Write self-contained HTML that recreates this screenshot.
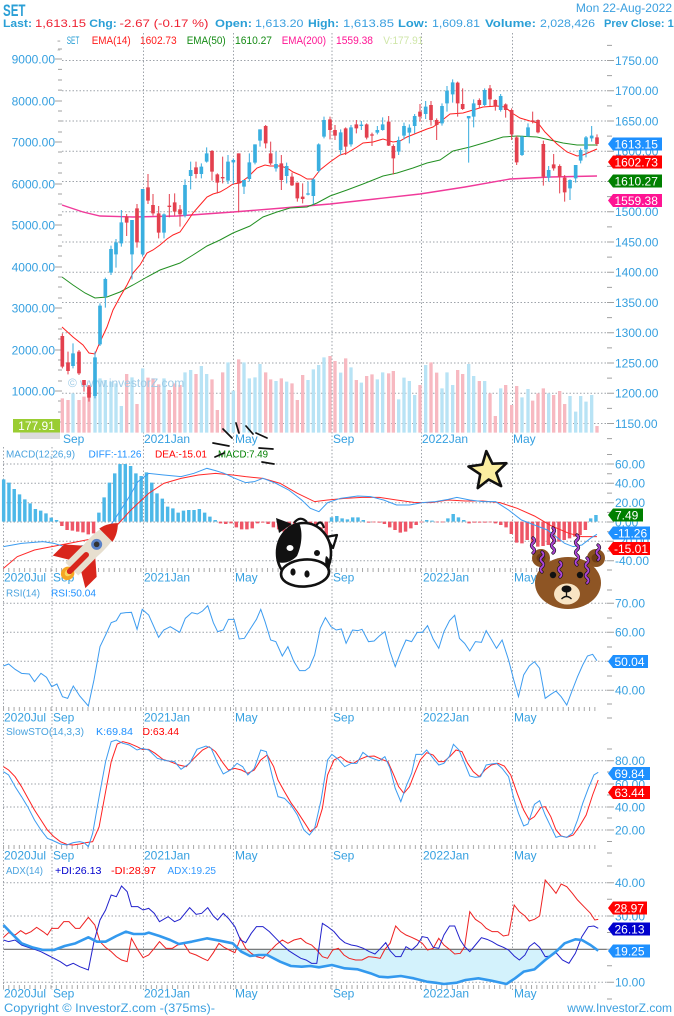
<!DOCTYPE html>
<html><head><meta charset="utf-8"><style>
html,body{margin:0;padding:0;background:#fff;}
svg{display:block;}
</style></head><body>
<svg width="674" height="1016" viewBox="0 0 674 1016" xmlns="http://www.w3.org/2000/svg" font-family="Liberation Sans, Arial, sans-serif">
<defs>
<pattern id="tk" patternUnits="userSpaceOnUse" width="5.28" height="2000" patternTransform="translate(3,0)"><rect x="0" y="0" width="1" height="2000" fill="#a8a8a8"/></pattern>
<clipPath id="adxc" clipPathUnits="userSpaceOnUse"><rect x="0" y="268" width="1500" height="200"/></clipPath>
</defs>
<rect width="674" height="1016" fill="#fff"/>

<!-- HEADER -->
<text x="3" y="16" font-size="16.5" font-weight="bold" fill="#2a9fd6" textLength="22.5" lengthAdjust="spacingAndGlyphs">SET</text>
<text x="672" y="12" font-size="12" fill="#3a9fdf" text-anchor="end">Mon 22-Aug-2022</text>
<g font-size="11">
<text x="3" y="27" font-weight="bold" fill="#2a9fd6" textLength="29" lengthAdjust="spacingAndGlyphs">Last:</text>
<text x="35" y="27" fill="#ee2233" textLength="51" lengthAdjust="spacingAndGlyphs">1,613.15</text>
<text x="89.3" y="27" font-weight="bold" fill="#2a9fd6" textLength="27.5" lengthAdjust="spacingAndGlyphs">Chg:</text>
<text x="119.5" y="27" fill="#ee2233" textLength="89" lengthAdjust="spacingAndGlyphs">-2.67 (-0.17 %)</text>
<text x="215" y="27" font-weight="bold" fill="#2a9fd6" textLength="37" lengthAdjust="spacingAndGlyphs">Open:</text>
<text x="255" y="27" fill="#3a9fdf" textLength="48.5" lengthAdjust="spacingAndGlyphs">1,613.20</text>
<text x="308" y="27" font-weight="bold" fill="#2a9fd6" textLength="31" lengthAdjust="spacingAndGlyphs">High:</text>
<text x="343" y="27" fill="#3a9fdf" textLength="51" lengthAdjust="spacingAndGlyphs">1,613.85</text>
<text x="398" y="27" font-weight="bold" fill="#2a9fd6" textLength="30" lengthAdjust="spacingAndGlyphs">Low:</text>
<text x="432" y="27" fill="#3a9fdf" textLength="48" lengthAdjust="spacingAndGlyphs">1,609.81</text>
<text x="485" y="27" font-weight="bold" fill="#2a9fd6" textLength="51" lengthAdjust="spacingAndGlyphs">Volume:</text>
<text x="540" y="27" fill="#3a9fdf" textLength="55" lengthAdjust="spacingAndGlyphs">2,028,426</text>
<text x="604" y="27" font-weight="bold" fill="#2a9fd6">Prev Close: 1,615.82</text>
</g>
<g font-size="11">
<text x="57" y="43.8" fill="#999">-</text>
<text x="57" y="53" fill="#bbb">-</text>
<text x="66.7" y="43.8" fill="#2a9fd6" textLength="12.6" lengthAdjust="spacingAndGlyphs">SET</text>
<text x="91.7" y="43.8" fill="#ff1a1a" textLength="39" lengthAdjust="spacingAndGlyphs">EMA(14)</text>
<text x="140" y="43.8" fill="#ff1a1a" textLength="36.7" lengthAdjust="spacingAndGlyphs">1602.73</text>
<text x="186.7" y="43.8" fill="#138a13" textLength="39" lengthAdjust="spacingAndGlyphs">EMA(50)</text>
<text x="235" y="43.8" fill="#138a13" textLength="37" lengthAdjust="spacingAndGlyphs">1610.27</text>
<text x="281.7" y="43.8" fill="#ff1493" textLength="44.3" lengthAdjust="spacingAndGlyphs">EMA(200)</text>
<text x="336" y="43.8" fill="#ff1493" textLength="37" lengthAdjust="spacingAndGlyphs">1559.38</text>
<text x="383.3" y="43.8" fill="#cfe6a8" textLength="40" lengthAdjust="spacingAndGlyphs">V:177.91</text>
</g>

<!-- VERTICAL GRID -->
<g stroke="#9ea3aa" stroke-width="1" stroke-dasharray="1.5,2" fill="none">
<path d="M143.5,33V990 M233.5,33V990 M332,33V990 M421.5,33V990 M512.5,33V990 M3.5,447V990 M52,447V990"/>
</g>

<!-- MAIN CHART HORIZONTAL GRID -->
<g stroke="#9ea3aa" stroke-width="1" stroke-dasharray="1.5,2" fill="none">
<path d="M62,60.5H607 M62,90.7H607 M62,121H607 M62,151.2H607 M62,181.5H607 M62,211.7H607 M62,242H607 M62,272.2H607 M62,302.5H607 M62,332.7H607 M62,363H607 M62,393.2H607 M62,423.5H607"/>
</g>
<!-- main axes ticks -->
<g stroke="#a0a0a0" stroke-width="1">
<path d="M607,60.5h7 M607,90.7h7 M607,121h7 M607,151.2h7 M607,181.5h7 M607,211.7h7 M607,242h7 M607,272.2h7 M607,302.5h7 M607,332.7h7 M607,363h7 M607,393.2h7 M607,423.5h7"/>
<path d="M607,45.4h5 M607,75.6h5 M607,105.9h5 M607,136.1h5 M607,166.4h5 M607,196.6h5 M607,226.9h5 M607,257.1h5 M607,287.4h5 M607,317.6h5 M607,347.9h5 M607,378.1h5 M607,408.4h5 M607,438.6h5"/>
<path d="M55,59h7 M55,101h7 M55,142h7 M55,184h7 M55,225h7 M55,267h7 M55,308h7 M55,350h7 M55,391h7"/>
<path d="M58,49h4 M58,69.4h4 M58,80h4 M58,90.1h4 M58,111h4 M58,121h4 M58,132h4 M58,152h4 M58,163h4 M58,173h4 M58,194h4 M58,204h4 M58,215h4 M58,235h4 M58,246h4 M58,256h4 M58,277h4 M58,287h4 M58,298h4 M58,318h4 M58,329h4 M58,339h4 M58,360h4 M58,370h4 M58,381h4 M58,401h4 M58,412h4 M58,422h4"/>
</g>
<g font-size="12" fill="#36a0e0">
<text x="55" y="63.3" text-anchor="end">9000.00</text>
<text x="55" y="105.3" text-anchor="end">8000.00</text>
<text x="55" y="146.3" text-anchor="end">7000.00</text>
<text x="55" y="188.3" text-anchor="end">6000.00</text>
<text x="55" y="229.3" text-anchor="end">5000.00</text>
<text x="55" y="271.3" text-anchor="end">4000.00</text>
<text x="55" y="312.3" text-anchor="end">3000.00</text>
<text x="55" y="354.3" text-anchor="end">2000.00</text>
<text x="55" y="395.3" text-anchor="end">1000.00</text>
<text x="615" y="64.8">1750.00</text>
<text x="615" y="95">1700.00</text>
<text x="615" y="125.3">1650.00</text>
<text x="615" y="155.5">1600.00</text>
<text x="615" y="185.8">1550.00</text>
<text x="615" y="216">1500.00</text>
<text x="615" y="246.3">1450.00</text>
<text x="615" y="276.5">1400.00</text>
<text x="615" y="306.8">1350.00</text>
<text x="615" y="337">1300.00</text>
<text x="615" y="367.3">1250.00</text>
<text x="615" y="397.5">1200.00</text>
<text x="615" y="427.8">1150.00</text>
<text x="63" y="443">Sep</text>
<text x="144" y="443">2021Jan</text>
<text x="235" y="443">May</text>
<text x="333" y="443">Sep</text>
<text x="422" y="443">2022Jan</text>
<text x="513" y="443">May</text>
</g>

<!-- VOLUME -->
<g transform="translate(0,40) scale(0.333333)">
<path fill="#f7b9c1" d="M182,1075h10V1178h-10Z M199,1080h10V1178h-10Z M232,1080h10V1178h-10Z M247,1070h10V1178h-10Z M262,1035h10V1178h-10Z M375,1002h10V1178h-10Z M406,1092h10V1178h-10Z M439,1013h10V1178h-10Z M454,1015h10V1178h-10Z M471,1033h10V1178h-10Z M503,1050h10V1178h-10Z M519,1030h10V1178h-10Z M535,1035h10V1178h-10Z M583,1002h10V1178h-10Z M631,1018h10V1178h-10Z M647,1110h10V1178h-10Z M663,997h10V1178h-10Z M711,958h10V1178h-10Z M792,997h10V1178h-10Z M807,1018h10V1178h-10Z M839,1015h10V1178h-10Z M871,1030h10V1178h-10Z M887,1080h10V1178h-10Z M903,1005h10V1178h-10Z"/>
<path fill="#b8e3f5" d="M214,1060h10V1178h-10Z M280,1015h10V1178h-10Z M295,1015h10V1178h-10Z M311,1020h10V1178h-10Z M328,1025h10V1178h-10Z M343,1030h10V1178h-10Z M359,1098h10V1178h-10Z M391,1012h10V1178h-10Z M423,985h10V1178h-10Z M487,1015h10V1178h-10Z M550,997h10V1178h-10Z M567,990h10V1178h-10Z M599,978h10V1178h-10Z M615,1002h10V1178h-10Z M679,967h10V1178h-10Z M695,1052h10V1178h-10Z M727,967h10V1178h-10Z M743,1015h10V1178h-10Z M760,1012h10V1178h-10Z M775,972h10V1178h-10Z M823,1023h10V1178h-10Z M855,1025h10V1178h-10Z M919,1020h10V1178h-10Z M935,988h10V1178h-10Z M951,975h10V1178h-10Z M967,952h10V1178h-10Z"/>
</g>
<g transform="translate(330,40) scale(0.333333)">
<path fill="#f7b9c1" d="M-5,948h10V1178h-10Z M10,963h10V1178h-10Z M42,955h10V1178h-10Z M74,1020h10V1178h-10Z M105,1008h10V1178h-10Z M121,1003h10V1178h-10Z M171,1000h10V1178h-10Z M185,993h10V1178h-10Z M265,1035h10V1178h-10Z M298,967h10V1178h-10Z M315,998h10V1178h-10Z M378,990h10V1178h-10Z M393,1002h10V1178h-10Z M443,1023h10V1178h-10Z M475,1060h10V1178h-10Z M491,1128h10V1178h-10Z M522,1035h10V1178h-10Z M540,1095h10V1178h-10Z M555,1038h10V1178h-10Z M603,1082h10V1178h-10Z M619,1060h10V1178h-10Z M635,1045h10V1178h-10Z M666,1065h10V1178h-10Z M684,1053h10V1178h-10Z M699,1092h10V1178h-10Z M796,1158h10V1178h-10Z"/>
<path fill="#b8e3f5" d="M27,998h10V1178h-10Z M58,982h10V1178h-10Z M89,1028h10V1178h-10Z M137,1018h10V1178h-10Z M153,997h10V1178h-10Z M201,1078h10V1178h-10Z M217,1013h10V1178h-10Z M233,1023h10V1178h-10Z M249,1065h10V1178h-10Z M282,975h10V1178h-10Z M331,1045h10V1178h-10Z M346,997h10V1178h-10Z M363,1035h10V1178h-10Z M411,972h10V1178h-10Z M426,1008h10V1178h-10Z M459,1023h10V1178h-10Z M507,1045h10V1178h-10Z M571,1072h10V1178h-10Z M589,1047h10V1178h-10Z M651,1060h10V1178h-10Z M715,1068h10V1178h-10Z M732,1115h10V1178h-10Z M747,1068h10V1178h-10Z M763,1085h10V1178h-10Z M780,1065h10V1178h-10Z"/>
</g>
<text x="68" y="387" font-size="12" fill="#9fcbe6">© www.investorZ.com</text>

<!-- EMA lines -->
<polyline fill="none" stroke="#f03a9a" stroke-width="1.4" points="62,205 83,212 100,216 133,217 177,216 233,212 283,208 330,204 375,199 420,194 465,187 510,179 550,177 597,176"/>
<polyline fill="none" stroke="#239023" stroke-width="1" points="62,277 73,285 85,293 95,298 107,297 120,292 133,285 147,277 160,270 180,263 193,255 207,246 220,240 233,233 250,226 263,217 277,212 290,208 307,207 317,203 330,196 347,190 363,184 383,176 397,173 413,168 427,163 440,160 453,151 470,147 487,142 503,137 517,136 537,137 550,140 563,143 577,145 597,145"/>
<polyline fill="none" stroke="#ff2020" stroke-width="1" points="62,327 73,337 83,345 89,353 95,354 100,342 107,327 113,310 120,297 127,285 133,273 140,265 147,253 153,250 160,245 167,239 173,235 180,232 187,222 193,213 200,205 207,197 213,194 220,192 227,188 233,184 240,183 248,177 257,168 265,165 270,166 280,166 287,168 293,172 300,175 307,179 313,179 320,170 330,162 340,155 347,153 357,147 363,143 373,142 383,139 393,142 400,141 407,137 417,133 427,129 433,127 440,122 450,114 463,113 473,110 483,107 497,106 505,107 512,113 520,118 530,121 538,123 545,132 557,144 567,152 577,156 583,155 590,152 597,149"/>

<!-- CANDLES -->
<g transform="translate(0,40) scale(0.333333)">
<path fill="none" stroke="#e3404e" stroke-width="3" d="M187,880V985 M204,935V1003 M237,930V1005 M252,1020V1055 M267,1035V1085 M380,522V588 M411,492V623 M444,402V492 M459,462V527 M476,498V595 M508,462V532 M524,460V527 M540,495V560 M588,365V415 M636,330V422 M652,400V460 M668,350V430 M716,340V517 M797,255V325 M812,305V375 M844,345V450 M876,398V438 M892,428V485 M908,430V490"/>
<path fill="#e3404e" d="M181.5,888h11V980h-11Z M198.5,967h11V993h-11Z M231.5,935h11V1000h-11Z M246.5,1020h11V1035h-11Z M261.5,1040h11V1073h-11Z M374.5,530h11V548h-11Z M405.5,505h11V607h-11Z M438.5,442h11V482h-11Z M453.5,495h11V520h-11Z M470.5,520h11V578h-11Z M502.5,497h11V501h-11Z M518.5,487h11V515h-11Z M534.5,508h11V523h-11Z M582.5,382h11V402h-11Z M630.5,333h11V395h-11Z M646.5,403h11V428h-11Z M662.5,411h11V415h-11Z M710.5,340h11V430h-11Z M791.5,258h11V310h-11Z M806.5,340h11V370h-11Z M838.5,370h11V420h-11Z M870.5,410h11V436h-11Z M886.5,428h11V475h-11Z M902.5,470h11V477h-11Z"/>
<path fill="none" stroke="#35aadd" stroke-width="3" d="M219,910V985 M285,935V1075 M300,790V918 M316,713V803 M333,617V705 M348,597V683 M364,510V620 M396,540V718 M428,447V650 M492,520V595 M555,418V532 M572,365V448 M604,370V415 M620,322V368 M684,345V432 M700,355V432 M732,420V462 M748,340V425 M765,313V373 M780,268V320 M828,335V395 M860,368V430 M924,425V466 M940,415V493 M956,310V398 M972,230V295"/>
<path fill="#3aafe0" d="M213.5,940h11V978h-11Z M279.5,952h11V1068h-11Z M294.5,797h11V913h-11Z M310.5,717h11V770h-11Z M327.5,627h11V698h-11Z M342.5,607h11V643h-11Z M358.5,547h11V610h-11Z M390.5,540h11V643h-11Z M422.5,447h11V643h-11Z M486.5,523h11V578h-11Z M549.5,435h11V527h-11Z M566.5,390h11V408h-11Z M598.5,380h11V402h-11Z M614.5,340h11V365h-11Z M678.5,365h11V422h-11Z M694.5,360h11V367h-11Z M726.5,420h11V440h-11Z M742.5,367h11V417h-11Z M759.5,313h11V368h-11Z M774.5,268h11V302h-11Z M822.5,372h11V385h-11Z M854.5,378h11V408h-11Z M918.5,460h11V464h-11Z M934.5,418h11V468h-11Z M950.5,313h11V393h-11Z M966.5,240h11V290h-11Z"/>
</g>
<g transform="translate(330,40) scale(0.333333)">
<path fill="none" stroke="#e3404e" stroke-width="3" d="M0,230V298 M15,255V300 M47,262V345 M79,240V280 M110,250V298 M126,278V318 M176,228V318 M190,313V403 M270,192V245 M303,183V257 M320,235V300 M383,125V230 M398,145V210 M448,175V205 M480,135V198 M496,178V212 M527,190V233 M545,205V300 M560,287V375 M608,215V250 M624,238V280 M640,302V437 M671,342V392 M689,373V460 M704,405V485 M801,283V318"/>
<path fill="#e3404e" d="M-5.5,238h11V270h-11Z M9.5,270h11V287h-11Z M41.5,265h11V320h-11Z M73.5,253h11V265h-11Z M104.5,253h11V293h-11Z M120.5,283h11V287h-11Z M170.5,245h11V317h-11Z M184.5,318h11V355h-11Z M264.5,215h11V230h-11Z M297.5,195h11V240h-11Z M314.5,240h11V255h-11Z M377.5,128h11V190h-11Z M392.5,192h11V207h-11Z M442.5,180h11V195h-11Z M474.5,145h11V178h-11Z M490.5,180h11V198h-11Z M521.5,193h11V210h-11Z M539.5,210h11V283h-11Z M554.5,292h11V367h-11Z M602.5,241h11V245h-11Z M618.5,240h11V277h-11Z M634.5,312h11V410h-11Z M665.5,373h11V385h-11Z M683.5,378h11V410h-11Z M698.5,413h11V457h-11Z M795.5,292h11V312h-11Z"/>
<path fill="none" stroke="#35aadd" stroke-width="3" d="M32,268V345 M63,255V320 M94,243V270 M142,258V283 M158,232V272 M206,290V345 M222,248V298 M238,253V310 M254,222V280 M287,183V237 M336,190V257 M351,138V215 M368,118V188 M416,228V368 M431,178V262 M464,145V198 M512,162V215 M576,287V348 M594,250V290 M656,378V425 M720,418V480 M737,375V428 M752,325V370 M768,288V352 M785,258V305"/>
<path fill="#3aafe0" d="M26.5,277h11V330h-11Z M57.5,262h11V313h-11Z M88.5,254h11V258h-11Z M136.5,270h11V278h-11Z M152.5,253h11V270h-11Z M200.5,300h11V335h-11Z M216.5,258h11V287h-11Z M232.5,263h11V278h-11Z M248.5,228h11V258h-11Z M281.5,200h11V222h-11Z M330.5,198h11V250h-11Z M345.5,152h11V190h-11Z M362.5,127h11V163h-11Z M410.5,228h11V235h-11Z M425.5,190h11V230h-11Z M458.5,150h11V195h-11Z M506.5,168h11V210h-11Z M570.5,290h11V345h-11Z M588.5,262h11V290h-11Z M650.5,390h11V413h-11Z M714.5,420h11V445h-11Z M731.5,375h11V415h-11Z M746.5,330h11V362h-11Z M762.5,292h11V328h-11Z M779.5,287h11V295h-11Z"/>
</g>

<!-- main right labels -->
<g font-size="12" fill="#fff">
<polygon points="608,144 613,137.5 662,137.5 662,150.5 613,150.5" fill="#1e90ff"/><text x="614.5" y="148.3">1613.15</text>
<polygon points="608,162 613,155.5 662,155.5 662,168.5 613,168.5" fill="#ff0000"/><text x="614.5" y="166.3">1602.73</text>
<polygon points="608,181 613,174.5 662,174.5 662,187.5 613,187.5" fill="#008000"/><text x="614.5" y="185.3">1610.27</text>
<polygon points="608,200.5 613,194 662,194 662,207 613,207" fill="#ff1493"/><text x="614.5" y="204.8">1559.38</text>
</g>
<rect x="20" y="432" width="40" height="7" fill="#dcdcdc"/>
<rect x="13" y="419" width="47" height="13.5" fill="#9acd32"/>
<text x="36.5" y="430" font-size="12" fill="#fff" text-anchor="middle">177.91</text>

<!-- LOWER PANELS: horizontal grid -->
<g stroke="#9ea3aa" stroke-width="1" stroke-dasharray="1.5,2" fill="none">
<path d="M3,464H607 M3,483.3H607 M3,502.7H607 M3,522H607 M3,541.3H607 M3,560.7H607"/>
<path d="M3,603.3H607 M3,632.3H607 M3,661.3H607 M3,690.3H607"/>
<path d="M3,760.7H607 M3,784H607 M3,807H607 M3,830H607"/>
<path d="M3,882.7H607 M3,916H607 M3,982.3H607"/>
</g>
<g stroke="#a0a0a0" stroke-width="1">
<path d="M607,464h7 M607,483.3h7 M607,502.7h7 M607,522h7 M607,541.3h7 M607,560.7h7 M607,454.5h5 M607,473.8h5 M607,493.1h5 M607,512.4h5 M607,531.7h5 M607,551h5 M607,570h5"/>
<path d="M607,603.3h7 M607,632.3h7 M607,661.3h7 M607,690.3h7 M607,590h5 M607,618h5 M607,647h5 M607,676h5 M607,704h5 M607,718h5"/>
<path d="M607,760.7h7 M607,784h7 M607,807h7 M607,830h7 M607,749h5 M607,772h5 M607,795h5 M607,818h5 M607,841.5h5 M607,853h5"/>
<path d="M607,882.7h7 M607,916h7 M607,949.3h7 M607,982.3h7 M607,866h5 M607,899.3h5 M607,932.5h5 M607,965.7h5 M607,999h5"/>
</g>
<rect x="3" y="568" width="596" height="4" fill="url(#tk)"/>
<rect x="3" y="707" width="596" height="4" fill="url(#tk)"/>
<rect x="3" y="845" width="596" height="4" fill="url(#tk)"/>
<rect x="3" y="985" width="596" height="4" fill="url(#tk)"/>

<g font-size="12" fill="#36a0e0">
<text x="615" y="468.3">60.00</text><text x="615" y="487.6">40.00</text><text x="615" y="507">20.00</text><text x="615" y="526.3">0.00</text><text x="615" y="545.6">-20.00</text><text x="615" y="565">-40.00</text>
<text x="615" y="607.6">70.00</text><text x="615" y="636.6">60.00</text><text x="615" y="665.6">50.00</text><text x="615" y="694.6">40.00</text>
<text x="615" y="765">80.00</text><text x="615" y="788.3">60.00</text><text x="615" y="811.3">40.00</text><text x="615" y="834.3">20.00</text>
<text x="615" y="887">40.00</text><text x="615" y="920.3">30.00</text><text x="615" y="953.6">20.00</text><text x="615" y="986.6">10.00</text>
</g>
<g font-size="12" fill="#36a0e0">
<g transform="translate(0,581.5)"><text x="4" y="0">2020Jul</text><text x="53" y="0">Sep</text><text x="144" y="0">2021Jan</text><text x="235" y="0">May</text><text x="333" y="0">Sep</text><text x="423" y="0">2022Jan</text><text x="514" y="0">May</text></g>
<g transform="translate(0,721.5)"><text x="4" y="0">2020Jul</text><text x="53" y="0">Sep</text><text x="144" y="0">2021Jan</text><text x="235" y="0">May</text><text x="333" y="0">Sep</text><text x="423" y="0">2022Jan</text><text x="514" y="0">May</text></g>
<g transform="translate(0,859.5)"><text x="4" y="0">2020Jul</text><text x="53" y="0">Sep</text><text x="144" y="0">2021Jan</text><text x="235" y="0">May</text><text x="333" y="0">Sep</text><text x="423" y="0">2022Jan</text><text x="514" y="0">May</text></g>
<g transform="translate(0,997.5)"><text x="4" y="0">2020Jul</text><text x="53" y="0">Sep</text><text x="144" y="0">2021Jan</text><text x="235" y="0">May</text><text x="333" y="0">Sep</text><text x="423" y="0">2022Jan</text><text x="514" y="0">May</text></g>
</g>

<!-- titles -->
<g font-size="10">
<text x="6" y="457.5" fill="#4aa3df" textLength="69" lengthAdjust="spacingAndGlyphs">MACD(12,26,9)</text>
<text x="88.5" y="457.5" fill="#1e90ff" textLength="53" lengthAdjust="spacingAndGlyphs">DIFF:-11.26</text>
<text x="155" y="457.5" fill="#ff0000" textLength="52" lengthAdjust="spacingAndGlyphs">DEA:-15.01</text>
<text x="218" y="457.5" fill="#008000" textLength="50" lengthAdjust="spacingAndGlyphs">MACD:7.49</text>
<text x="6" y="596.5" fill="#4aa3df" textLength="34" lengthAdjust="spacingAndGlyphs">RSI(14)</text>
<text x="51" y="596.5" fill="#1e90ff" textLength="45" lengthAdjust="spacingAndGlyphs">RSI:50.04</text>
<text x="6" y="735" fill="#4aa3df" textLength="78" lengthAdjust="spacingAndGlyphs">SlowSTO(14,3,3)</text>
<text x="96" y="735" fill="#1e90ff" textLength="37" lengthAdjust="spacingAndGlyphs">K:69.84</text>
<text x="142.5" y="735" fill="#ff0000" textLength="36.5" lengthAdjust="spacingAndGlyphs">D:63.44</text>
<text x="6" y="874" fill="#4aa3df" textLength="37" lengthAdjust="spacingAndGlyphs">ADX(14)</text>
<text x="55" y="874" fill="#0000cd" textLength="46.5" lengthAdjust="spacingAndGlyphs">+DI:26.13</text>
<text x="111" y="874" fill="#ff0000" textLength="45" lengthAdjust="spacingAndGlyphs">-DI:28.97</text>
<text x="167.5" y="874" fill="#3399ff" textLength="48.5" lengthAdjust="spacingAndGlyphs">ADX:19.25</text>
</g>

<!-- MACD -->
<g transform="translate(0,440) scale(0.431,0.333333)">
<path fill="#4db8e8" d="M4.5,118h8V245h-8Z M16.8,128h8V245h-8Z M29,147h8V245h-8Z M41.3,163h8V245h-8Z M53.6,178h8V245h-8Z M65.9,190h8V245h-8Z M78.1,207h8V245h-8Z M90.4,212h8V245h-8Z M102.7,220h8V245h-8Z M114.9,233h8V245h-8Z M127.2,240h8V245h-8Z M225.4,218h8V245h-8Z M237.6,172h8V245h-8Z M249.9,128h8V245h-8Z M262.2,100h8V245h-8Z M274.4,72h8V245h-8Z M286.7,72h8V245h-8Z M299,78h8V245h-8Z M311.3,100h8V245h-8Z M323.5,108h8V245h-8Z M335.8,97h8V245h-8Z M348.1,128h8V245h-8Z M360.3,160h8V245h-8Z M372.6,176h8V245h-8Z M384.9,200h8V245h-8Z M397.1,205h8V245h-8Z M409.4,218h8V245h-8Z M421.7,212h8V245h-8Z M434,210h8V245h-8Z M446.2,210h8V245h-8Z M458.5,207h8V245h-8Z M470.8,218h8V245h-8Z M483,230h8V245h-8Z M495.3,240h8V245h-8Z M765.2,232h8V245h-8Z M777.5,228h8V245h-8Z M789.8,235h8V245h-8Z M802.1,238h8V245h-8Z M814.3,232h8V245h-8Z M826.6,232h8V245h-8Z M838.9,240h8V245h-8Z M986.1,240h8V245h-8Z M998.4,242h8V245h-8Z M1035.2,235h8V245h-8Z M1047.5,222h8V245h-8Z M1059.7,232h8V245h-8Z M1072,240h8V245h-8Z M1366.5,235h8V245h-8Z M1378.7,225h8V245h-8Z"/>
<path fill="#ee5566" d="M139.5,245h8V258h-8Z M151.7,245h8V270h-8Z M164,245h8V272h-8Z M176.3,245h8V275h-8Z M188.5,245h8V277h-8Z M200.8,245h8V283h-8Z M213.1,245h8V280h-8Z M507.6,245h8V250h-8Z M519.8,245h8V252h-8Z M532.1,245h8V250h-8Z M544.4,245h8V262h-8Z M556.7,245h8V268h-8Z M568.9,245h8V268h-8Z M581.2,245h8V265h-8Z M593.5,245h8V250h-8Z M605.7,245h8V248h-8Z M618,245h8V252h-8Z M630.3,245h8V262h-8Z M642.5,245h8V268h-8Z M654.8,245h8V275h-8Z M667.1,245h8V285h-8Z M679.4,245h8V295h-8Z M691.6,245h8V305h-8Z M703.9,245h8V318h-8Z M716.2,245h8V325h-8Z M728.4,245h8V328h-8Z M740.7,245h8V318h-8Z M753,245h8V300h-8Z M851.1,245h8V248h-8Z M863.4,245h8V247h-8Z M875.7,245h8V248h-8Z M887.9,245h8V252h-8Z M900.2,245h8V262h-8Z M912.5,245h8V270h-8Z M924.8,245h8V278h-8Z M937,245h8V275h-8Z M949.3,245h8V265h-8Z M961.6,245h8V255h-8Z M973.8,245h8V247h-8Z M1010.6,245h8V247h-8Z M1022.9,245h8V247h-8Z M1084.3,245h8V250h-8Z M1096.5,245h8V248h-8Z M1108.8,245h8V248h-8Z M1121.1,245h8V248h-8Z M1133.3,245h8V247h-8Z M1145.6,245h8V250h-8Z M1157.9,245h8V255h-8Z M1170.2,245h8V262h-8Z M1182.4,245h8V282h-8Z M1194.7,245h8V308h-8Z M1207,245h8V310h-8Z M1219.2,245h8V300h-8Z M1231.5,245h8V310h-8Z M1243.8,245h8V320h-8Z M1256,245h8V318h-8Z M1268.3,245h8V315h-8Z M1280.6,245h8V312h-8Z M1292.9,245h8V305h-8Z M1305.1,245h8V300h-8Z M1317.4,245h8V295h-8Z M1329.7,245h8V290h-8Z M1341.9,245h8V285h-8Z M1354.2,245h8V270h-8Z"/>
<polyline fill="none" stroke="#ff2a2a" stroke-width="1" vector-effect="non-scaling-stroke" points="8,385 40,350 80,330 120,320 160,310 200,300 240,290 270,258 300,215 320,190 345,160 380,130 420,115 460,105 500,100 540,105 570,110 610,115 650,130 690,160 730,185 760,180 800,175 840,172 880,172 920,180 960,187 1000,188 1040,180 1080,183 1120,183 1160,188 1200,205 1240,228 1280,258 1320,280 1350,290 1385,290"/>
<polyline fill="none" stroke="#3d9cf0" stroke-width="1" vector-effect="non-scaling-stroke" points="8,320 50,310 100,305 125,310 145,318 170,322 200,315 230,300 250,268 265,240 280,210 300,170 320,125 345,100 380,105 420,110 450,100 480,85 500,92 520,100 545,115 570,128 590,125 610,115 640,130 670,150 700,180 720,205 740,215 760,188 790,175 830,168 860,170 890,180 920,195 950,195 980,188 1010,185 1040,178 1060,172 1090,180 1120,185 1150,185 1180,210 1210,240 1240,255 1270,270 1290,290 1310,310 1330,320 1350,315 1370,295 1385,283"/>
</g>
<g font-size="12" fill="#fff">
<polygon points="608,515 613,508.5 643,508.5 643,521.5 613,521.5" fill="#008000"/><text x="615" y="519.3">7.49</text>
<polygon points="608,533 613,526.5 650,526.5 650,539.5 613,539.5" fill="#1e90ff"/><text x="614" y="537.3">-11.26</text>
<polygon points="608,548.5 613,542 650,542 650,555 613,555" fill="#ff0000"/><text x="614" y="552.8">-15.01</text>
</g>

<!-- RSI -->
<g transform="translate(0,580) scale(0.431,0.333333)">
<polyline fill="none" stroke="#3d9cf0" stroke-width="1" vector-effect="non-scaling-stroke" points="8,258 20,252 35,268 50,280 68,282 80,305 95,280 108,292 120,320 132,312 145,350 157,355 170,318 185,348 205,378 218,300 232,200 245,165 258,128 270,122 280,100 292,98 305,97 318,148 330,88 345,105 368,172 380,150 395,140 417,157 430,115 445,98 458,102 470,93 482,77 495,128 505,155 518,150 530,118 543,118 555,177 567,175 580,148 595,118 605,88 615,125 628,180 640,185 655,228 668,200 682,245 695,272 708,272 718,262 730,225 743,145 755,113 768,140 780,150 792,147 803,190 818,150 830,152 840,148 855,185 868,183 880,168 893,155 905,215 917,260 930,215 942,180 955,185 968,157 980,157 992,137 1005,177 1018,205 1030,155 1043,122 1055,106 1066,175 1078,190 1090,213 1103,185 1117,187 1128,152 1140,178 1152,205 1165,180 1180,240 1192,300 1203,350 1215,285 1228,258 1240,245 1252,265 1265,355 1278,343 1290,333 1302,350 1315,375 1328,330 1340,290 1352,255 1363,228 1375,223 1385,242"/>
</g>
<g font-size="12" fill="#fff">
<polygon points="608,661.5 613,655 648,655 648,668 613,668" fill="#1e90ff"/><text x="614.5" y="665.8">50.04</text>
</g>

<!-- STOCH -->
<g transform="translate(0,720) scale(0.431,0.333333)">
<polyline fill="none" stroke="#ff2222" stroke-width="1" vector-effect="non-scaling-stroke" points="8,140 20,150 35,170 50,200 65,235 80,270 95,300 110,330 125,350 140,365 155,373 170,375 185,372 200,368 215,365 230,320 245,215 258,125 272,72 285,65 300,70 318,80 330,88 345,88 360,100 378,118 395,125 415,135 432,140 450,115 470,90 485,80 500,95 518,130 530,150 545,145 560,150 575,160 590,150 605,120 620,105 635,140 645,180 660,215 675,248 690,275 705,305 720,335 735,320 748,265 760,165 775,120 790,110 805,125 820,130 835,118 850,110 868,108 885,118 900,125 912,160 925,200 937,220 950,200 962,160 975,120 990,98 1005,105 1018,125 1030,125 1045,108 1058,90 1072,95 1085,130 1098,155 1112,170 1125,150 1140,135 1155,130 1170,138 1185,165 1200,220 1215,270 1228,300 1240,290 1255,262 1265,260 1278,290 1290,330 1302,348 1315,352 1330,345 1345,318 1360,285 1375,225 1388,180"/>
<polyline fill="none" stroke="#3d9cf0" stroke-width="1" vector-effect="non-scaling-stroke" points="8,155 20,165 35,200 50,230 65,262 80,300 95,330 110,355 125,363 140,372 155,375 170,368 185,365 195,368 205,380 215,340 230,230 245,125 258,65 270,60 285,70 300,75 318,90 330,85 345,90 365,115 385,122 405,125 420,148 440,130 457,88 478,78 490,85 505,130 518,162 535,150 550,130 563,140 575,165 590,145 605,90 618,95 633,175 645,230 660,235 675,255 690,285 705,330 718,345 730,325 745,240 760,120 770,103 785,118 800,140 815,130 828,130 842,97 855,110 870,118 880,122 893,110 905,145 917,205 930,245 942,200 955,160 965,103 980,103 990,90 1005,115 1018,135 1030,130 1043,108 1052,73 1065,90 1078,130 1090,168 1103,172 1115,170 1128,135 1140,132 1152,130 1165,145 1180,170 1192,235 1203,280 1215,318 1225,312 1240,253 1252,242 1265,285 1278,320 1290,352 1300,348 1315,352 1328,340 1340,300 1352,250 1365,205 1378,165 1388,157"/>
</g>
<g font-size="12" fill="#fff">
<polygon points="608,773.5 613,767 650,767 650,780 613,780" fill="#1e90ff"/><text x="614.5" y="777.8">69.84</text>
<polygon points="608,792.5 613,786 650,786 650,799 613,799" fill="#ff0000"/><text x="614.5" y="796.8">63.44</text>
</g>

<!-- ADX -->
<g transform="translate(0,860) scale(0.431,0.333333)">
<polygon clip-path="url(#adxc)" fill="#d3f2fc" points="8,195 25,218 50,250 75,262 100,270 125,270 150,258 175,250 205,232 225,245 245,245 270,228 292,215 310,222 335,222 345,218 370,228 395,240 415,252 445,245 480,235 510,242 540,250 560,275 580,288 600,285 620,285 650,305 675,318 700,320 720,318 740,322 770,315 800,325 830,328 860,340 880,350 900,352 930,348 960,355 990,365 1010,368 1030,372 1060,368 1080,360 1110,355 1140,362 1175,372 1195,355 1215,335 1240,328 1265,300 1290,275 1310,250 1335,238 1350,240 1370,255 1388,272 1388,268 8,268"/>
<line x1="8" y1="268" x2="1408" y2="268" stroke="#6a6a6a" stroke-width="1.2" vector-effect="non-scaling-stroke"/>
<polyline fill="none" stroke="#ee2222" stroke-width="1" vector-effect="non-scaling-stroke" points="8,232 20,218 35,225 48,212 60,222 72,215 85,202 100,215 110,225 120,205 135,205 148,185 160,185 175,205 185,205 205,172 220,195 232,245 245,262 258,275 270,290 282,300 295,305 305,235 320,270 332,293 345,285 358,265 370,245 385,265 400,265 412,255 425,248 440,278 455,285 470,295 482,302 495,278 508,250 520,262 532,270 545,278 558,235 570,265 583,280 595,290 610,295 625,275 640,255 655,240 668,250 682,240 698,235 710,248 723,255 735,270 748,290 760,295 772,270 785,265 798,285 810,295 825,300 840,300 855,290 870,292 882,295 893,268 905,250 918,198 930,215 942,225 955,232 968,240 980,250 992,270 1005,265 1018,235 1030,255 1043,268 1055,282 1068,280 1078,260 1090,155 1103,178 1117,190 1128,205 1142,215 1155,215 1168,228 1180,225 1193,135 1205,155 1218,168 1228,183 1240,178 1252,168 1265,60 1278,80 1290,100 1302,72 1315,80 1328,100 1340,120 1355,140 1370,160 1380,180 1388,178"/>
<polyline fill="none" stroke="#2222cc" stroke-width="1" vector-effect="non-scaling-stroke" points="8,240 20,245 35,240 50,255 65,262 80,268 95,275 110,285 125,295 140,305 155,318 170,310 185,320 205,330 218,245 232,180 245,150 258,105 270,110 282,78 295,95 305,140 320,140 332,150 345,145 358,160 370,185 390,170 405,185 418,178 440,143 455,163 468,160 482,143 495,168 505,180 518,160 530,175 545,200 558,240 570,248 583,220 595,200 610,200 625,215 640,235 655,255 670,272 683,283 698,295 710,300 723,310 735,310 748,190 760,200 775,215 788,235 800,248 815,255 828,258 843,265 857,275 870,282 883,265 895,248 905,272 918,290 930,290 942,260 955,270 968,255 980,230 992,233 1005,262 1018,265 1030,225 1043,198 1055,198 1068,240 1078,260 1090,275 1103,255 1117,233 1130,238 1142,245 1155,255 1168,262 1180,270 1193,288 1205,300 1218,285 1228,260 1240,248 1252,262 1265,290 1278,288 1290,278 1305,300 1320,310 1335,280 1350,230 1365,200 1378,198 1388,205"/>
<polyline fill="none" stroke="#3399ee" stroke-width="2.6" stroke-linejoin="round" vector-effect="non-scaling-stroke" points="8,195 25,218 50,250 75,262 100,270 125,270 150,258 175,250 205,232 225,245 245,245 270,228 292,215 310,222 335,222 345,218 370,228 395,240 415,252 445,245 480,235 510,242 540,250 560,275 580,288 600,285 620,285 650,305 675,318 700,320 720,318 740,322 770,315 800,325 830,328 860,340 880,350 900,352 930,348 960,355 990,365 1010,368 1030,372 1060,368 1080,360 1110,355 1140,362 1175,372 1195,355 1215,335 1240,328 1265,300 1290,275 1310,250 1335,238 1350,240 1370,255 1388,272"/>
</g>
<g font-size="12" fill="#fff">
<polygon points="608,908 613,901.5 647,901.5 647,914.5 613,914.5" fill="#ff0000"/><text x="614" y="912.3">28.97</text>
<polygon points="608,929 613,922.5 650,922.5 650,935.5 613,935.5" fill="#0000cd"/><text x="614.5" y="933.3">26.13</text>
<polygon points="608,951 613,944.5 650,944.5 650,957.5 613,957.5" fill="#1e90ff"/><text x="614.5" y="955.3">19.25</text>
</g>

<!-- FOOTER -->
<text x="4" y="1012" font-size="12" fill="#3a9fdf" textLength="211" lengthAdjust="spacingAndGlyphs">Copyright © InvestorZ.com -(375ms)-</text>
<text x="672" y="1012" font-size="12" fill="#3a9fdf" text-anchor="end">www.InvestorZ.com</text>

<!-- DECORATIONS -->
<g stroke="#111" stroke-width="1.7" stroke-linecap="round" fill="none">
<path d="M213,443 L229,446 M215,457 L224,453 M223,429 L232,438 M236,423 L239,433 M246,426 L253,434 M256,433 L267,438 M259,448 L273,449 M262,462 L274,464"/>
</g>
<polygon points="486.3,451.1 492.4,463.7 506.4,463.2 496.3,472.9 501.1,486.1 488.7,479.5 477.7,488.1 480.2,474.3 468.5,466.5 482.4,464.6" fill="#fbeea0" stroke="#111" stroke-width="2.6" stroke-linejoin="round"/>
<g transform="translate(91,550) rotate(45)">
<ellipse cx="0" cy="33" rx="6.5" ry="7" fill="#f5a623"/>
<ellipse cx="0" cy="32" rx="3.2" ry="4" fill="#f9d65a"/>
<polygon points="-8,2 -23,15 -23,31 -8,22" fill="#d9261c"/>
<polygon points="8,2 23,15 23,31 8,22" fill="#d9261c"/>
<path d="M0,-38 C9,-28 10,-14 9,0 L9,27 L-9,27 L-9,0 C-10,-14 -9,-28 0,-38Z" fill="#e7dfcf"/>
<path d="M0,-38 C6,-32 8.5,-26 9.3,-21 L-9.3,-21 C-8.5,-26 -6,-32 0,-38Z" fill="#d9261c"/>
<circle cx="0" cy="-8" r="5.5" fill="#5a82c8"/>
<circle cx="0" cy="-8" r="2.8" fill="#333"/>
<rect x="-2.8" y="4" width="5.6" height="29" rx="2.8" fill="#d9261c"/>
</g>
<g>
<path d="M279,533 L276,518 L292,524Z" fill="#111"/>
<path d="M326,537 L337,535 L333,548Z" fill="#fff" stroke="#111" stroke-width="2.2" stroke-linejoin="round"/>
<path d="M294,523 Q300,515 307,522" fill="#fff" stroke="#111" stroke-width="2.2"/>
<path d="M316,526 Q321,518 324,528" fill="#fff" stroke="#111" stroke-width="2.2"/>
<ellipse cx="304" cy="553" rx="27" ry="30" fill="#fff" stroke="#111" stroke-width="2.6"/>
<path d="M278,562 C273,543 281,527 299,523 C303,531 302,545 297,556 C291,562 284,564 278,562Z" fill="#111"/>
<path d="M326,556 C330,558 331,564 329,572 C326,570 324,562 326,556Z" fill="#111"/>
<ellipse cx="290" cy="548" rx="3.5" ry="3" fill="#fff"/>
<circle cx="317" cy="553" r="3" fill="#111"/>
<ellipse cx="305" cy="573" rx="24" ry="13.5" fill="#fff" stroke="#111" stroke-width="2.6" transform="rotate(-4 305 573)"/>
<ellipse cx="293" cy="572" rx="2.6" ry="3.6" fill="#111"/>
<ellipse cx="307" cy="574" rx="2.6" ry="3.6" fill="#111"/>
</g>
<g>
<circle cx="541" cy="558" r="9" fill="#8a5322"/>
<circle cx="596" cy="558" r="9" fill="#8a5322"/>
<circle cx="541" cy="558" r="4.5" fill="#6d3c12"/>
<circle cx="596" cy="558" r="4.5" fill="#6d3c12"/>
<ellipse cx="568" cy="583" rx="33" ry="26" fill="#8e5524"/>
<ellipse cx="567" cy="594" rx="13" ry="10.5" fill="#f8e4c4"/>
<ellipse cx="566.5" cy="589" rx="5" ry="3.5" fill="#111"/>
<path d="M566.5,591 V596 M561.5,599 Q566.5,594 571.5,599" stroke="#111" stroke-width="1.3" fill="none"/>
<circle cx="553" cy="575" r="3.2" fill="#111"/>
<circle cx="580" cy="575" r="3.2" fill="#111"/>
<g fill="none" stroke-linecap="round">
<g stroke="#1a1020" stroke-width="3.2">
<path d="M533,538 q3,2.5 0,5 t0,5 t0,5"/>
<path d="M542,552 q3,2.5 0,5 t0,5 t0,5 t0,5"/>
<path d="M553,528 q3,2.5 0,5 t0,5 t0,5 t0,5 t0,5"/>
<path d="M560,562 q3,2.5 0,5 t0,5 t0,5"/>
<path d="M577,535 q3,2.5 0,5 t0,5 t0,5 t0,5 t0,5 t0,5"/>
<path d="M587,558 q3,2.5 0,5 t0,5 t0,5 t0,5 t0,5"/>
<path d="M598,545 q3,2.5 0,5 t0,5 t0,5"/>
</g>
<g stroke="#b046d8" stroke-width="1.8">
<path d="M533,538 q3,2.5 0,5 t0,5 t0,5"/>
<path d="M542,552 q3,2.5 0,5 t0,5 t0,5 t0,5"/>
<path d="M553,528 q3,2.5 0,5 t0,5 t0,5 t0,5 t0,5"/>
<path d="M560,562 q3,2.5 0,5 t0,5 t0,5"/>
<path d="M577,535 q3,2.5 0,5 t0,5 t0,5 t0,5 t0,5 t0,5"/>
<path d="M587,558 q3,2.5 0,5 t0,5 t0,5 t0,5 t0,5"/>
<path d="M598,545 q3,2.5 0,5 t0,5 t0,5"/>
</g>
</g>
</g>
</svg>
</body></html>
